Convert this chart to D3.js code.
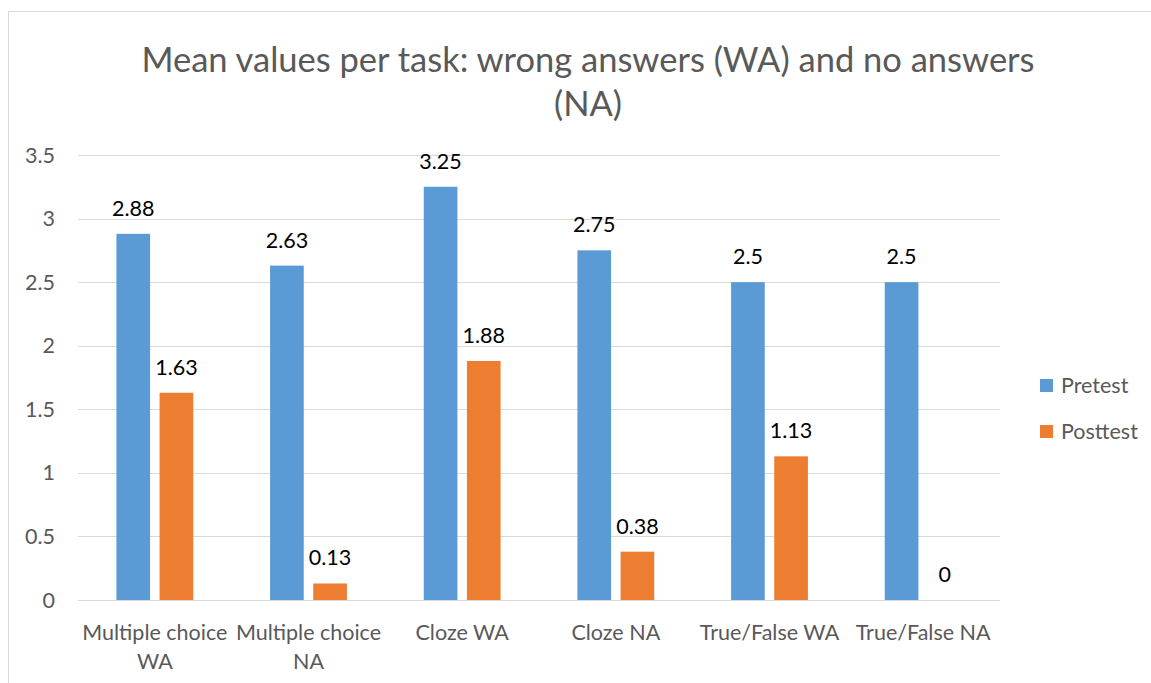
<!DOCTYPE html>
<html>
<head>
<meta charset="utf-8">
<script src="https://cdn.jsdelivr.net/npm/d3@7.9.0/dist/d3.min.js"></script>
<style>
  body { margin: 0; background: #fff; }
  svg { font-family: Lato, "Open Sans", sans-serif; }
</style>
</head>
<body>
<svg id="chart" width="1151" height="683"></svg>
<script>
const categories = [
  ['Multiple choice', 'WA'],
  ['Multiple choice', 'NA'],
  ['Cloze WA'],
  ['Cloze NA'],
  ['True/False WA'],
  ['True/False NA'],
];
const pretest = [2.88, 2.63, 3.25, 2.75, 2.5, 2.5];
const posttest = [1.63, 0.13, 1.88, 0.38, 1.13, 0];
const seriesNames = ['Pretest', 'Posttest'];
const colors = ['#5b9bd5', '#ed7d31'];
const yTicks = [0, 0.5, 1, 1.5, 2, 2.5, 3, 3.5];
const titleLines = ['Mean values per task: wrong answers (WA) and no answers', '(NA)'];

const svg = d3.select('#chart');
const width = 1151, height = 683;
const margin = { top: 155, right: 151, bottom: 83, left: 78 };
const fs = 21.5;

// chart border
svg.append('rect')
  .attr('x', 8.5).attr('y', 11.5)
  .attr('width', 1160).attr('height', 700)
  .attr('fill', 'none').attr('stroke', '#d9d9d9');

const title = svg.append('text')
  .attr('text-anchor', 'middle')
  .attr('fill', '#595959')
  .attr('font-size', 34.5);
titleLines.forEach((t, i) => {
  title.append('tspan').attr('x', 588).attr('y', 72 + i * 43.5).text(t);
});

const x0 = d3.scaleBand()
  .domain(d3.range(categories.length))
  .range([margin.left, width - margin.right])
  .paddingInner(0).paddingOuter(0);

const x1 = d3.scaleBand()
  .domain([0, 1])
  .range([x0.bandwidth() * 0.25, x0.bandwidth() * 0.75])
  .paddingInner(0.22);

const y = d3.scaleLinear()
  .domain([0, 3.5])
  .range([height - margin.bottom, margin.top]);

// gridlines
svg.append('g')
  .selectAll('line')
  .data(yTicks)
  .join('line')
  .attr('x1', margin.left).attr('x2', width - margin.right)
  .attr('y1', d => Math.round(y(d)) + 0.5).attr('y2', d => Math.round(y(d)) + 0.5)
  .attr('stroke', '#d9d9d9').attr('stroke-width', 1);

// y tick labels
svg.append('g')
  .selectAll('text')
  .data(yTicks)
  .join('text')
  .attr('x', 55)
  .attr('y', d => y(d))
  .attr('dy', '0.35em')
  .attr('text-anchor', 'end')
  .attr('fill', '#595959')
  .attr('font-size', fs)
  .text(d => d);

const series = [pretest, posttest];
series.forEach((vals, si) => {
  const g = svg.append('g');
  g.selectAll('rect')
    .data(vals)
    .join('rect')
    .attr('x', (d, i) => x0(i) + x1(si))
    .attr('width', x1.bandwidth())
    .attr('y', d => y(d))
    .attr('height', d => y(0) - y(d))
    .attr('fill', colors[si]);
  g.selectAll('text')
    .data(vals)
    .join('text')
    .attr('x', (d, i) => x0(i) + x1(si) + x1.bandwidth() / 2)
    .attr('y', d => y(d) - 18)
    .attr('text-anchor', 'middle')
    .attr('fill', '#000')
    .attr('font-size', fs)
    .text(d => d);
});

// category labels
const cat = svg.append('g')
  .selectAll('text')
  .data(categories)
  .join('text')
  .attr('text-anchor', 'middle')
  .attr('fill', '#595959')
  .attr('font-size', fs);
cat.each(function (lines, i) {
  lines.forEach((l, li) => {
    d3.select(this).append('tspan')
      .attr('x', x0(i) + x0.bandwidth() / 2)
      .attr('y', 640 + li * 29)
      .text(l);
  });
});

// legend
const legend = svg.append('g');
seriesNames.forEach((name, i) => {
  const ly = 385 + i * 46;
  legend.append('rect')
    .attr('x', 1040).attr('y', ly - 6)
    .attr('width', 13).attr('height', 13)
    .attr('fill', colors[i]);
  legend.append('text')
    .attr('x', 1061).attr('y', ly)
    .attr('dy', '0.35em')
    .attr('fill', '#595959')
    .attr('font-size', fs)
    .text(name);
});
</script>
</body>
</html>
